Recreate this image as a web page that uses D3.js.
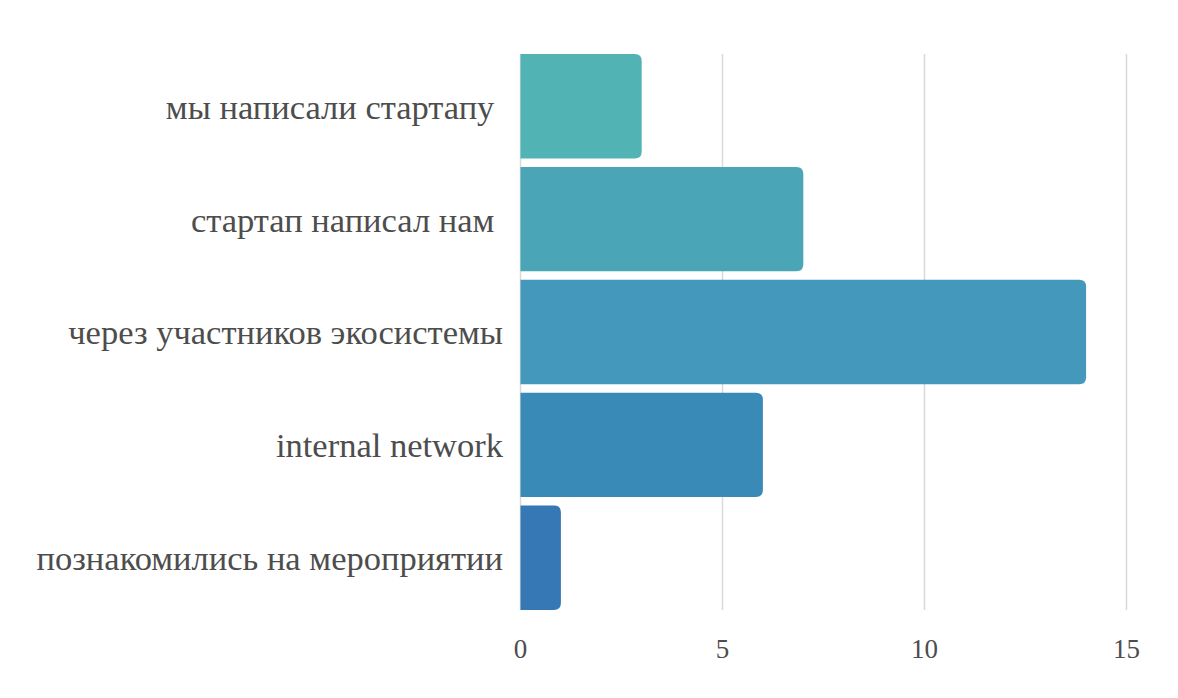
<!DOCTYPE html>
<html><head><meta charset="utf-8">
<script src="https://cdn.jsdelivr.net/npm/d3@7"></script>
<style>body{margin:0;background:#fff}</style>
</head><body>
<svg id="c" width="1178" height="698"></svg>
<script>
const categories = ["мы написали стартапу ", "стартап написал нам ", "через участников экосистемы", "internal network", "познакомились на мероприятии"];
const values = [3, 7, 14, 6, 1];
const colors = ["#52b3b5", "#4aa6b7", "#4398bb", "#3a8ab7", "#3578b5"];
const ticks = [0, 5, 10, 15];

const svg = d3.select("#c");
const x = d3.scaleLinear().domain([0, 15]).range([520.5, 1126.5]);
const y = d3.scaleBand().domain(categories).range([54, 610]).paddingInner(0.075).paddingOuter(0.0);

// grid
svg.append("g").selectAll("line").data(ticks).join("line")
  .attr("x1", d => x(d)).attr("x2", d => x(d))
  .attr("y1", 54).attr("y2", 610)
  .attr("stroke", "#d9d9d9").attr("stroke-width", 1.5);

const r = 7;
svg.append("g").selectAll("path").data(categories).join("path")
  .attr("fill", (d, i) => colors[i])
  .attr("d", (d, i) => {
    const x0 = x(0), x1 = x(values[i]), y0 = y(d), h = y.bandwidth();
    const rr = Math.min(r, (x1 - x0));
    return `M${x0},${y0}H${x1 - rr}Q${x1},${y0} ${x1},${y0 + rr}V${y0 + h - rr}Q${x1},${y0 + h} ${x1 - rr},${y0 + h}H${x0}Z`;
  });

// category labels
svg.append("g").selectAll("text").data(categories).join("text")
  .attr("x", 503).attr("y", d => y(d) + y.bandwidth() / 2)
  .attr("dy", "0.36em")
  .attr("text-anchor", "end")
  .style("white-space", "pre")
  .attr("font-family", "'Liberation Serif', serif")
  .attr("font-size", 34.5)
  .attr("fill", "#4d4d4d")
  .text(d => d);

// x tick labels
svg.append("g").selectAll("text").data(ticks).join("text")
  .attr("x", d => x(d)).attr("y", 658)
  .attr("text-anchor", "middle")
  .attr("font-family", "'Liberation Serif', serif")
  .attr("font-size", 27)
  .attr("fill", "#4d4d4d")
  .text(d => d);
</script>
</body></html>
